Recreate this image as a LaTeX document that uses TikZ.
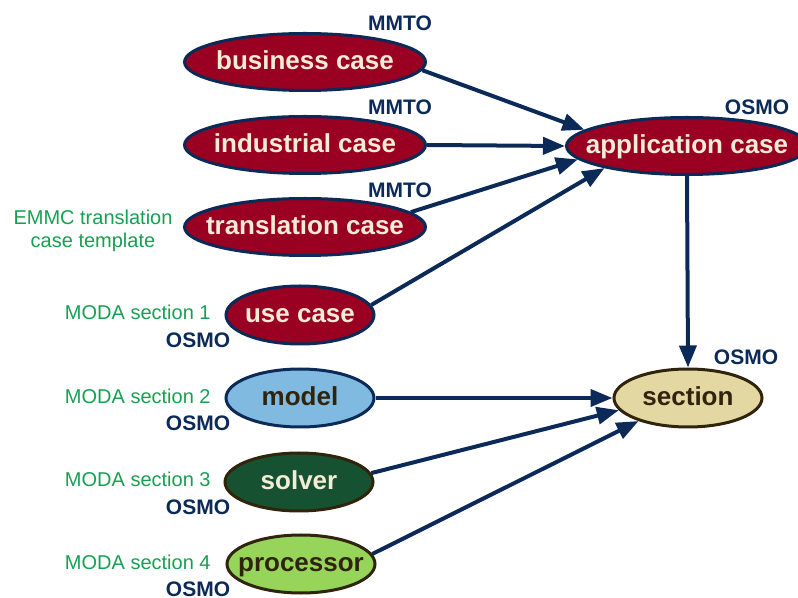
\documentclass[tikz,border=0pt]{standalone}
\usepackage{fontspec}
\setmainfont{Liberation Sans}
\usepackage{tikz}
\usetikzlibrary{arrows.meta}
\usetikzlibrary{shapes.geometric}

\definecolor{osmoblue}{RGB}{12,42,88}
\definecolor{casered}{RGB}{153,0,34}
\definecolor{cream}{RGB}{245,236,214}
\definecolor{darkbrown}{RGB}{48,36,12}
\definecolor{modelblue}{RGB}{128,186,224}
\definecolor{solvergreen}{RGB}{22,82,50}
\definecolor{procgreen}{RGB}{150,212,90}
\definecolor{sectionsand}{RGB}{228,216,162}
\definecolor{modagreen}{RGB}{22,160,82}

\tikzset{
    blob/.style={ellipse, line width=1.5pt, inner xsep=-40pt, inner ysep=0pt,
        text height=0.72em, text depth=0pt,
        font=\fontsize{13}{15}\selectfont\bfseries},
    bigblob/.style={blob, minimum width=120.5pt, minimum height=28.5pt},
    smallblob/.style={blob, minimum width=74pt, minimum height=29pt},
    redblob/.style={draw=osmoblue, fill=casered, text=cream},
    tag/.style={inner sep=0pt, text=osmoblue,
        font=\fontsize{10.5}{12}\selectfont\bfseries},
    moda/.style={inner sep=0pt, text=modagreen, align=center,
        font=\fontsize{10}{11.5}\selectfont},
    link/.style={draw=osmoblue, line width=2pt,
        -{Triangle[length=11pt,width=8.5pt]}}
}

\begin{document}
\begin{tikzpicture}[x=0.5pt, y=-0.5pt]
    \useasboundingbox (0, 0) rectangle (798, 598);

    % case nodes
    \node[bigblob, redblob] (bc) at (305, 62) {business case};
    \node[bigblob, redblob] (ic) at (305, 145) {industrial case};
    \node[bigblob, redblob] (tc) at (305, 227) {translation case};
    \node[smallblob, redblob] (uc) at (300, 315) {use case};
    \node[bigblob, redblob] (ac) at (687, 146) {application case};

    % moda nodes
    \node[smallblob, draw=osmoblue, fill=modelblue, text=darkbrown] (model) at (300, 398) {model};
    \node[smallblob, draw=darkbrown, fill=solvergreen, text=cream] (solver) at (299, 482) {solver};
    \node[smallblob, draw=darkbrown, fill=procgreen, text=darkbrown] (proc) at (301, 564) {processor};
    \node[smallblob, draw=darkbrown, fill=sectionsand, text=darkbrown] (sec) at (688, 398) {section};

    % tags
    \node[tag] (bctag) at (400, 23) {MMTO};
    \node[tag] (ictag) at (400, 107) {MMTO};
    \node[tag] (tctag) at (400, 190) {MMTO};
    \node[tag] (actag) at (757, 107) {OSMO};
    \node[tag] (sectag) at (746, 357) {OSMO};
    \node[tag] (uctag) at (198, 340) {OSMO};
    \node[tag] (modeltag) at (198, 423) {OSMO};
    \node[tag] (solvertag) at (198, 507) {OSMO};
    \node[tag] (proctag) at (198, 589) {OSMO};

    \node[moda] (tcnote) at (93, 231) {EMMC translation\\case template};
    \node[moda, anchor=east] (ucnote) at (211, 312) {MODA section 1};
    \node[moda, anchor=east] (modelnote) at (211, 396) {MODA section 2};
    \node[moda, anchor=east] (solvernote) at (211, 479) {MODA section 3};
    \node[moda, anchor=east] (procnote) at (211, 562) {MODA section 4};

    % links
    \draw[link] (bc.-4) -- (ac.171);
    \draw[link] (ic.0) -- (ac.180);
    \draw[link] (tc.8) -- (ac.187);
    \draw[link] (uc.8) -- (ac.195);
    \draw[link] (ac.south) -- (sec.north);
    \draw[link] (model.0) -- (sec.180);
    \draw[link] (solver.7) -- (sec.190);
    \draw[link] (proc.8) -- (sec.205);
\end{tikzpicture}
\end{document}
